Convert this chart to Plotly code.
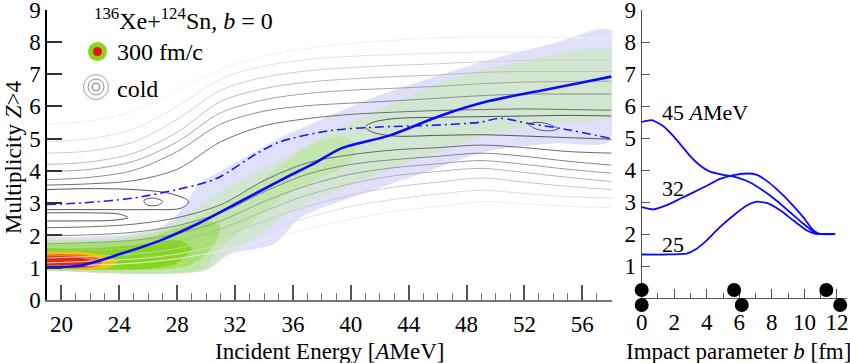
import plotly.graph_objects as go

# ---- left panel: mean multiplicities vs incident energy ----
E_MEAN = [19, 21.3, 24.1, 26.8, 29.6, 32.4, 35.1, 37.7, 39.3, 42.7, 46.2, 49.6, 53.1, 55.9, 58]
M_MEAN = [1.02, 1.07, 1.43, 1.84, 2.4, 3.06, 3.7, 4.29, 4.69, 5.1, 5.71, 6.17, 6.48, 6.73, 6.92]

E_COLD = [19, 21.5, 25, 28.45, 30.76, 33.5, 35.1, 38.6, 42, 45.5, 48.96, 50.3, 52.4, 54.7, 58]
M_COLD = [2.96, 3.01, 3.16, 3.47, 3.77, 4.54, 4.9, 5.25, 5.36, 5.41, 5.51, 5.63, 5.46, 5.3, 5.0]

# cold distribution contour lines
E_GRID = [19, 22, 25, 28, 31, 34, 37, 40, 43, 46, 49, 52, 55, 58]
UPPER_LINES = [
    [5.45, 5.55, 5.85, 6.5, 7.15, 7.55, 7.8, 7.95, 8.05, 8.12, 8.15, 8.15, 8.12, 8.1],
    [4.9, 5.0, 5.3, 6.0, 6.85, 7.25, 7.45, 7.55, 7.6, 7.65, 7.68, 7.68, 7.66, 7.65],
    [4.55, 4.62, 4.9, 5.6, 6.5, 6.9, 7.1, 7.2, 7.27, 7.32, 7.38, 7.42, 7.43, 7.43],
    [4.2, 4.28, 4.55, 5.2, 6.15, 6.55, 6.75, 6.85, 6.92, 6.97, 7.05, 7.08, 7.08, 7.08],
    [3.98, 4.05, 4.3, 4.9, 5.8, 6.2, 6.4, 6.5, 6.56, 6.62, 6.7, 6.75, 6.77, 6.78],
    [3.73, 3.8, 4.02, 4.6, 5.45, 5.85, 6.02, 6.1, 6.17, 6.25, 6.33, 6.38, 6.38, 6.38],
    [3.56, 3.6, 3.7, 4.05, 4.9, 5.4, 5.62, 5.75, 5.82, 5.87, 5.9, 5.92, 5.9, 5.88],
]
UPPER_COLORS = ["#f0f0f0", "#e2e2e2", "#d0d0d0", "#bcbcbc", "#a4a4a4", "#8c8c8c", "#707070"]
LOWER_LINES = [
    [2.24, 2.27, 2.35, 2.55, 2.95, 3.7, 4.25, 4.5, 4.65, 4.72, 4.8, 4.72, 4.6, 4.55],
    [1.99, 2.02, 2.1, 2.3, 2.7, 3.35, 3.9, 4.2, 4.35, 4.45, 4.55, 4.45, 4.3, 4.18],
    [1.74, 1.78, 1.85, 2.05, 2.45, 3.05, 3.55, 3.9, 4.1, 4.22, 4.32, 4.2, 4.05, 3.93],
    [1.5, 1.55, 1.62, 1.82, 2.2, 2.75, 3.25, 3.6, 3.85, 3.98, 4.08, 3.95, 3.8, 3.67],
    [1.3, 1.35, 1.42, 1.6, 1.95, 2.45, 2.9, 3.25, 3.5, 3.65, 3.78, 3.65, 3.52, 3.42],
    [1.15, 1.2, 1.27, 1.42, 1.72, 2.15, 2.55, 2.9, 3.12, 3.28, 3.4, 3.3, 3.2, 3.16],
    [1.05, 1.08, 1.14, 1.28, 1.52, 1.85, 2.2, 2.5, 2.75, 2.9, 3.05, 2.98, 2.9, 2.86],
]
LOWER_COLORS = ["#6c6c6c", "#848484", "#9c9c9c", "#b4b4b4", "#c8c8c8", "#dcdcdc", "#ececec"]

# closed / half-open contours
LOOP1_E = [19, 22, 25, 27.5, 28.8, 28.3, 26, 23, 19]
LOOP1_M = [3.42, 3.45, 3.42, 3.3, 3.05, 2.85, 2.8, 2.8, 2.8]
LOOP2_E = [19, 22, 24, 24.6, 23.5, 21, 19]
LOOP2_M = [2.7, 2.7, 2.66, 2.55, 2.47, 2.45, 2.45]
LOOP3_E = [25.7, 26.3, 27.0, 26.6, 25.9, 25.7]
LOOP3_M = [3.08, 3.16, 3.05, 2.93, 2.95, 3.08]
LOOPR_E = [58, 55, 52, 49, 46, 43, 41.5, 41, 41.5, 43, 46, 49, 52, 55, 58]
LOOPR_M = [5.7, 5.72, 5.7, 5.68, 5.66, 5.62, 5.5, 5.36, 5.2, 5.08, 5.1, 5.12, 5.08, 5.03, 4.98]
LOOP4_E = [52.3, 52.8, 53.5, 54.3, 53.6, 52.8, 52.3]
LOOP4_M = [5.45, 5.5, 5.47, 5.3, 5.24, 5.3, 5.45]

# 300 fm/c distribution: nested regions
BLUE_E = [19, 22, 25, 27, 28.5, 29.5, 31, 33, 35, 38, 42, 46, 50, 54, 58,
          58, 54, 49.4, 44.8, 42, 39.3, 36.5, 34.7, 31.7, 30, 29, 19]
BLUE_M = [1.95, 1.97, 2.05, 2.3, 2.9, 3.6, 4.0, 4.5, 5.0, 5.6, 6.35, 6.95, 7.5, 7.95, 8.35,
          4.95, 4.85, 4.6, 3.9, 3.47, 3.06, 2.55, 1.74, 1.43, 0.95, 0.9, 0.9]
PALE_E = [19, 24, 27, 29, 31, 33, 35, 38.6, 42.7, 46.6, 51, 58,
          58, 54, 49.4, 44.8, 39.3, 36, 34, 31.7, 30, 19]
PALE_M = [1.9, 1.93, 2.25, 2.75, 3.35, 3.85, 4.3, 5.2, 6.05, 6.8, 7.3, 7.7,
          5.7, 5.5, 5.1, 4.4, 3.45, 2.8, 2.1, 1.5, 0.93, 0.92]
LIGHT_E = [19, 24, 27, 30, 32, 34, 36, 38, 39.5, 40.3, 40, 38.5, 36, 34, 32, 30.5, 29.8, 19]
LIGHT_M = [1.85, 1.9, 2.15, 2.7, 3.2, 3.75, 4.45, 4.95, 5.05, 4.8, 4.3, 3.9, 3.4, 2.7, 2.0, 1.4, 0.95, 0.92]
MID_E = [19, 23, 26, 28.5, 30, 31, 30.5, 29, 27, 19]
MID_M = [1.75, 1.78, 1.95, 2.3, 2.45, 2.3, 1.7, 1.1, 0.95, 0.95]
STRONG_E = [19, 23, 26, 28, 29, 28, 26, 19]
STRONG_M = [1.6, 1.62, 1.75, 1.85, 1.6, 1.15, 0.97, 0.97]
YELLOW_E = [19, 21.5, 23, 23.8, 23.4, 19]
YELLOW_M = [1.5, 1.48, 1.38, 1.2, 1.02, 0.98]
ORANGE_E = [19, 21.5, 22.6, 22.8, 22, 19]
ORANGE_M = [1.42, 1.4, 1.28, 1.1, 1.0, 0.99]
RED_E = [19, 21, 22, 21.8, 19]
RED_M = [1.35, 1.33, 1.2, 1.05, 1.02]

REGIONS = [
    (BLUE_E, BLUE_M, "#e0e0fb"),
    (PALE_E, PALE_M, "#d2e6d2"),
    (LIGHT_E, LIGHT_M, "#c2e6ae"),
    (MID_E, MID_M, "#a8e070"),
    (STRONG_E, STRONG_M, "#86d61e"),
    (YELLOW_E, YELLOW_M, "#ecc800"),
    (ORANGE_E, ORANGE_M, "#f07818"),
    (RED_E, RED_M, "#e42814"),
]

# ---- right panel: multiplicity vs impact parameter ----
B45 = [0, 0.62, 1.33, 1.95, 2.46, 2.97, 3.49, 4.2, 5.02, 5.84, 6.66, 7.48, 8.3, 9.12, 9.94, 10.66, 11.17, 11.89]
M45 = [5.5, 5.56, 5.37, 5.06, 4.75, 4.44, 4.18, 3.95, 3.85, 3.77, 3.61, 3.35, 3.04, 2.68, 2.32, 2.04, 2.0, 2.0]
B32 = [0, 0.72, 1.54, 2.36, 3.18, 4.0, 4.82, 5.64, 6.46, 7.08, 7.69, 8.3, 9.12, 9.94, 10.56, 10.97, 11.89]
M32 = [2.84, 2.77, 2.9, 3.1, 3.3, 3.51, 3.72, 3.84, 3.89, 3.85, 3.66, 3.4, 2.99, 2.52, 2.11, 2.0, 2.0]
B25 = [0, 1.5, 2.77, 3.38, 4.0, 4.82, 5.64, 6.46, 7.08, 7.69, 8.51, 9.33, 10.15, 10.76, 11.89]
M25 = [1.36, 1.36, 1.39, 1.54, 1.8, 2.22, 2.58, 2.89, 3.01, 2.97, 2.74, 2.42, 2.11, 2.0, 2.0]

DOT_B = [0, 0, 5.68, 6.15, 11.35, 12.2]
DOT_M = [0.25, -0.22, 0.25, -0.22, 0.25, -0.22]

W, H = 850, 363
SERIF = "Liberation Serif"


def fx(px):
    return px / W


def fy(py):
    return 1 - py / H


fig = go.Figure()

# filled regions
for xs, ys, col in REGIONS:
    fig.add_trace(go.Scatter(x=xs, y=ys, mode="lines", fill="toself", fillcolor=col,
                             line=dict(width=0, shape="spline", smoothing=0.8),
                             hoverinfo="skip", showlegend=False))

# contour lines
for ys, col in zip(UPPER_LINES + LOWER_LINES, UPPER_COLORS + LOWER_COLORS):
    fig.add_trace(go.Scatter(x=E_GRID, y=ys, mode="lines",
                             line=dict(color=col, width=1, shape="spline", smoothing=0.9),
                             hoverinfo="skip", showlegend=False))
for xs, ys in [(LOOP1_E, LOOP1_M), (LOOP2_E, LOOP2_M), (LOOP3_E, LOOP3_M),
               (LOOPR_E, LOOPR_M), (LOOP4_E, LOOP4_M)]:
    fig.add_trace(go.Scatter(x=xs, y=ys, mode="lines",
                             line=dict(color="#555555", width=1, shape="spline", smoothing=0.9),
                             hoverinfo="skip", showlegend=False))

# mean lines
fig.add_trace(go.Scatter(x=E_COLD, y=M_COLD, mode="lines",
                         line=dict(color="#1a1aff", width=1.6, dash="9px,4px,2px,4px",
                                   shape="spline", smoothing=0.8),
                         showlegend=False))
fig.add_trace(go.Scatter(x=E_MEAN, y=M_MEAN, mode="lines",
                         line=dict(color="#0a0aff", width=2.6, shape="spline", smoothing=0.8),
                         showlegend=False))

# right panel curves
for bs, ms in [(B45, M45), (B32, M32), (B25, M25)]:
    fig.add_trace(go.Scatter(x=bs, y=ms, mode="lines", xaxis="x2", yaxis="y2",
                             line=dict(color="#0a0aff", width=1.8, shape="spline", smoothing=0.5),
                             showlegend=False))
# nuclei dots: own invisible subplot whose y range reaches below zero
fig.add_trace(go.Scatter(x=DOT_B, y=DOT_M, mode="markers", xaxis="x3", yaxis="y3",
                         marker=dict(color="black", size=14), cliponaxis=False,
                         showlegend=False))

tickfont = dict(family=SERIF, size=23, color="black")
Y1_BOT, Y1_TOP = 300, 9.5
Y2_BOT, Y2_TOP = 298, 10
Y2_PX = (Y2_BOT - Y2_TOP) / 9
X2_DOM = [fx(641.7), fx(847)]
X2_RANGE = [0, 12.62]

fig.update_layout(
    width=W, height=H,
    margin=dict(l=0, r=0, t=0, b=0),
    paper_bgcolor="white", plot_bgcolor="rgba(0,0,0,0)",
    xaxis=dict(domain=[fx(47), fx(612)], range=[19, 58.05], anchor="y", automargin=False,
               showgrid=False, zeroline=False, showline=True, linecolor="#777", linewidth=1.5,
               ticks="inside", ticklen=15, tickwidth=1.5, tickcolor="#555",
               tick0=20, dtick=4, tickfont=tickfont, ticklabelstandoff=3,
               minor=dict(dtick=1, ticks="inside", ticklen=7, tickcolor="#777", tickwidth=1)),
    yaxis=dict(domain=[fy(Y1_BOT), fy(Y1_TOP)], range=[0, 9], anchor="x", automargin=False,
               showgrid=False, zeroline=False, showline=True, linecolor="black", linewidth=1.5,
               ticks="inside", ticklen=15, tickwidth=1.5, tickcolor="#333",
               dtick=1, tickfont=tickfont, ticklabeloverflow="allow"),
    xaxis2=dict(domain=X2_DOM, range=X2_RANGE, anchor="y2", automargin=False,
                showgrid=False, zeroline=False, showline=True, linecolor="#555", linewidth=1.2,
                ticks="inside", ticklen=9, tickcolor="#555", dtick=2, tickfont=tickfont,
                ticklabelstandoff=3, ticklabeloverflow="allow",
                minor=dict(dtick=1, ticks="inside", ticklen=5, tickcolor="#555")),
    yaxis2=dict(domain=[fy(Y2_BOT), fy(Y2_TOP)], range=[0, 9], anchor="x2", automargin=False,
                showgrid=False, zeroline=False, showline=True, linecolor="#555", linewidth=1.2,
                ticks="inside", ticklen=8, tickcolor="#555", ticklabeloverflow="allow",
                tickvals=[1, 2, 3, 4, 5, 6, 7, 8, 9], tickfont=tickfont),
    xaxis3=dict(domain=X2_DOM, range=X2_RANGE, anchor="y3", visible=False, automargin=False),
    yaxis3=dict(domain=[fy(Y2_BOT + 0.5 * Y2_PX), fy(Y2_TOP)], range=[-0.5, 9],
                anchor="x3", visible=False, automargin=False),
    font=dict(family=SERIF, color="black"),
)


def px_ann(x, y, text, size=23, xanchor="left", angle=0):
    fig.add_annotation(x=fx(x), y=fy(y), xref="paper", yref="paper", text=text,
                       showarrow=False, xanchor=xanchor, yanchor="middle", textangle=angle,
                       font=dict(family=SERIF, size=size, color="black"))


px_ann(92, 19, "<sup>136</sup>Xe+<sup>124</sup>Sn, <i>b</i> = 0", size=24)
px_ann(115, 52, "300 fm/c", size=24)
px_ann(115, 89, "cold", size=24)
px_ann(660, 113, "45 <i>A</i>MeV", size=22)
px_ann(660, 188, "32", size=22)
px_ann(660, 244, "25", size=22)
px_ann(330, 351, "Incident Energy [<i>A</i>MeV]", xanchor="center")
px_ann(738, 351, "Impact parameter <i>b</i> [fm]", xanchor="center")
px_ann(14, 158, "Multiplicity <i>Z</i>>4", xanchor="center", angle=-90)


# legend symbols
def px_circle(cx, cy, r, fill=None, line=None, lw=0):
    fig.add_shape(type="circle", xref="paper", yref="paper",
                  x0=fx(cx - r), x1=fx(cx + r), y0=fy(cy + r), y1=fy(cy - r),
                  fillcolor=fill if fill else "rgba(0,0,0,0)",
                  line=dict(color=line if line else "rgba(0,0,0,0)", width=lw))


px_circle(97.5, 51.5, 9.5, fill="#8cd41e")
px_circle(97.5, 51.5, 4.5, fill="#f01010")
px_circle(96, 87, 12.5, line="#888", lw=0.8)
px_circle(96, 87, 8, line="#777", lw=0.8)
px_circle(96, 87, 3.8, line="#555", lw=0.8)

# the browser's default 8px body margin would shift the fixed-size figure
fig.write_html("out.html", config={"displayModeBar": False},
               post_script="document.body.style.margin='0px';")
